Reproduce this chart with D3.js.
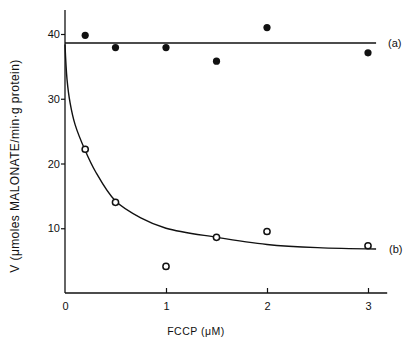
<!DOCTYPE html>
<html>
<head>
<meta charset="utf-8">
<script src="https://cdn.jsdelivr.net/npm/d3@7"></script>
<style>
  body { margin: 0; background: #fff; }
  svg { display: block; }
  text { font-family: "Liberation Sans", Arial, sans-serif; fill: #111; }
</style>
</head>
<body>
<svg width="407" height="346"></svg>
<script>
// values
var fccp = [0.2, 0.5, 1, 1.5, 2, 3];
var seriesA = [39.8, 37.9, 37.9, 35.8, 41.0, 37.1];   // filled circles
var seriesB = [22.2, 14.0, 4.1, 8.6, 9.5, 7.3];       // open circles
var fitA = [[0, 38.6], [3.08, 38.6]];
var fitB = [[0, 38.4], [0.02, 33.0], [0.05, 29.4], [0.1, 26.0], [0.2, 22.0], [0.3, 18.8],
            [0.5, 14.2], [0.75, 11.6], [1, 10.0], [1.5, 8.6], [2, 7.5], [2.5, 7.0], [3.08, 6.8]];
var xTicks = [0, 1, 2, 3];
var yTicks = [10, 20, 30, 40];

var svg = d3.select("svg");

var x = d3.scaleLinear().domain([0, 3]).range([65, 368]);
var y = d3.scaleLinear().domain([0, 40]).range([293, 34]);

// axes
svg.append("line")
    .attr("x1", x(0)).attr("x2", x(3.19))
    .attr("y1", y(0)).attr("y2", y(0))
    .attr("stroke", "#111").attr("stroke-width", 1.3);
svg.append("line")
    .attr("x1", x(0)).attr("x2", x(0))
    .attr("y1", y(0)).attr("y2", y(43.7))
    .attr("stroke", "#111").attr("stroke-width", 1.3);

// y ticks
var yAxis = d3.axisLeft(y).tickValues(yTicks).tickSize(4).tickPadding(1);
var gy = svg.append("g").attr("transform", "translate(" + x(0) + ",0)").call(yAxis);
gy.select(".domain").remove();
gy.selectAll("line").attr("stroke", "#111").attr("stroke-width", 1.2);
gy.selectAll("text").attr("font-size", 11).attr("fill", "#111");

// x ticks (upward)
var xAxis = d3.axisBottom(x).tickValues(xTicks).tickFormat(d3.format("d")).tickSize(-5).tickPadding(9);
var gx = svg.append("g").attr("transform", "translate(0," + y(0) + ")").call(xAxis);
gx.select(".domain").remove();
gx.selectAll("line").attr("stroke", "#111").attr("stroke-width", 1.2);
gx.selectAll(".tick").filter(d => d == 0).select("line").remove();
gx.selectAll("text").attr("font-size", 11).attr("fill", "#111");

// fitted lines
svg.append("path").datum(fitA)
    .attr("d", d3.line().x(d => x(d[0])).y(d => y(d[1])))
    .attr("fill", "none").attr("stroke", "#111").attr("stroke-width", 1.4);
svg.append("path").datum(fitB)
    .attr("d", d3.line().x(d => x(d[0])).y(d => y(d[1])).curve(d3.curveCatmullRom.alpha(0.5)))
    .attr("fill", "none").attr("stroke", "#111").attr("stroke-width", 1.4);

// points
svg.append("g").selectAll("circle")
    .data(fccp)
    .enter()
    .append("circle")
    .attr("cx", d => x(d))
    .attr("cy", (d, i) => y(seriesA[i]))
    .attr("r", 3.6)
    .attr("fill", "#111");

svg.append("g").selectAll("circle")
    .data(fccp)
    .enter()
    .append("circle")
    .attr("cx", d => x(d))
    .attr("cy", (d, i) => y(seriesB[i]))
    .attr("r", 3.1)
    .attr("fill", "#fff")
    .attr("stroke", "#111")
    .attr("stroke-width", 1.5);

// series labels
svg.append("text").attr("x", 388).attr("y", y(38.6) + 4)
    .attr("font-size", 11).text("(a)");
svg.append("text").attr("x", 389).attr("y", y(6.8) + 4)
    .attr("font-size", 11).text("(b)");

// axis titles
svg.append("text")
    .attr("x", 196).attr("y", 335)
    .attr("text-anchor", "middle")
    .attr("font-size", 10.5)
    .attr("letter-spacing", 0.5)
    .text("FCCP (μM)");

svg.append("text")
    .attr("transform", "translate(19,166) rotate(-90)")
    .attr("text-anchor", "middle")
    .attr("font-size", 12)
    .attr("letter-spacing", 0.4)
    .text("V (μmoles MALONATE/min·g protein)");
</script>
</body>
</html>
